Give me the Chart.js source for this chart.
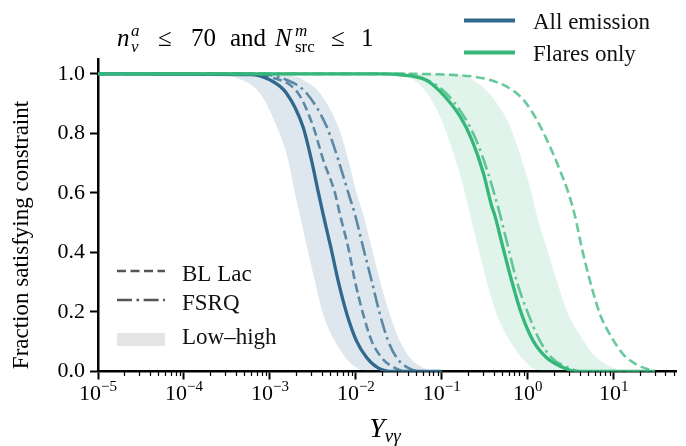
<!DOCTYPE html>
<html>
<head>
<meta charset="utf-8">
<script src="https://cdn.jsdelivr.net/npm/chart.js@4.4.1/dist/chart.umd.min.js"></script>
<style>
html,body{margin:0;padding:0;background:#fff;}
#wrap{width:686px;height:446px;position:relative;}
</style>
</head>
<body>
<div id="wrap"><canvas id="c" width="686" height="446"></canvas></div>
<script>
// ---------------- data ----------------
const xTickExponents = [-5, -4, -3, -2, -1, 0, 1];
const yTickValues = [0.0, 0.2, 0.4, 0.6, 0.8, 1.0];
const yTickLabels = ['0.0', '0.2', '0.4', '0.6', '0.8', '1.0'];

// All emission (blue)
const allMedianX = [1e-5, 5.85e-4, 1.0e-3, 1.56e-3, 2.42e-3, 3.04e-3, 3.67e-3, 4.17e-3, 5.13e-3, 6.24e-3, 7.9e-3, 1.02e-2, 1.34e-2, 1.81e-2, 2.70e-2, 0.1];
const allMedianY = [1, 0.998, 0.98, 0.935, 0.823, 0.711, 0.60, 0.527, 0.415, 0.303, 0.191, 0.102, 0.046, 0.012, 0, 0];
const allBLLacX = [1e-5, 5.85e-4, 1.0e-3, 2.13e-3, 3.19e-3, 4.17e-3, 5.71e-3, 6.53e-3, 8.17e-3, 9.77e-3, 1.22e-2, 1.53e-2, 2.00e-2, 2.61e-2, 3.90e-2, 0.1];
const allBLLacY = [1, 1.0, 0.99, 0.935, 0.823, 0.711, 0.60, 0.527, 0.415, 0.303, 0.191, 0.102, 0.046, 0.018, 0, 0];
const allFSRQX = [1e-5, 6.68e-4, 1.56e-3, 2.67e-3, 4.57e-3, 6.24e-3, 8.17e-3, 9.77e-3, 1.22e-2, 1.53e-2, 1.91e-2, 2.38e-2, 2.99e-2, 4.07e-2, 5.57e-2, 0.1];
const allFSRQY = [1, 1.0, 0.98, 0.935, 0.823, 0.711, 0.60, 0.527, 0.415, 0.303, 0.191, 0.102, 0.046, 0.012, 0, 0];
const allLowX = [1e-5, 2.5e-4, 3.71e-4, 7.65e-4, 1.20e-3, 1.63e-3, 1.95e-3, 2.23e-3, 2.72e-3, 3.34e-3, 4.17e-3, 5.71e-3, 8.17e-3, 1.12e-2, 1.46e-2, 0.1];
const allLowY = [1, 1.0, 0.99, 0.935, 0.823, 0.711, 0.60, 0.527, 0.415, 0.303, 0.191, 0.102, 0.035, 0.007, 0, 0];
const allHighX = [1e-5, 1.0e-3, 2.05e-3, 2.44e-3, 3.82e-3, 6.24e-3, 8.17e-3, 1.02e-2, 1.22e-2, 1.53e-2, 1.91e-2, 2.49e-2, 3.26e-2, 4.27e-2, 6.09e-2, 7.90e-2, 0.1];
const allHighY = [1, 1.0, 0.99, 0.98, 0.935, 0.823, 0.711, 0.60, 0.527, 0.415, 0.303, 0.191, 0.102, 0.046, 0.012, 0, 0];

// Flares only (green)
const flareMedianX = [1e-5, 1.91e-2, 3.26e-2, 6.67e-2, 9.53e-2, 0.163, 0.223, 0.304, 0.381, 0.411, 0.516, 0.652, 0.851, 1.16, 1.66, 2.38, 3.72, 30];
const flareMedianY = [1, 1.0, 0.997, 0.978, 0.941, 0.857, 0.779, 0.667, 0.555, 0.527, 0.415, 0.303, 0.191, 0.102, 0.046, 0.018, 0, 0];
const flareBLLacX = [1e-5, 3.26e-2, 0.125, 0.304, 0.570, 0.889, 1.27, 1.74, 2.27, 2.97, 3.55, 4.25, 5.31, 6.95, 9.51, 12.97, 18.6, 30];
const flareBLLacY = [1, 1.0, 0.997, 0.985, 0.957, 0.913, 0.846, 0.767, 0.689, 0.60, 0.521, 0.415, 0.303, 0.191, 0.113, 0.057, 0.023, 0];
const flareFSRQX = [1e-5, 3.26e-2, 6.91e-2, 0.112, 0.181, 0.250, 0.345, 0.405, 0.476, 0.594, 0.745, 1.02, 1.39, 1.90, 2.72, 4.25, 30];
const flareFSRQY = [1, 1.0, 0.978, 0.935, 0.857, 0.779, 0.667, 0.60, 0.527, 0.415, 0.303, 0.191, 0.102, 0.046, 0.018, 0, 0];
const flareLowX = [1e-5, 2.49e-2, 5.57e-2, 9.53e-2, 0.136, 0.178, 0.213, 0.266, 0.333, 0.436, 0.622, 0.851, 1.16, 1.59, 30];
const flareLowY = [1, 1.0, 0.963, 0.857, 0.734, 0.622, 0.527, 0.415, 0.303, 0.191, 0.102, 0.046, 0.01, 0, 0];
const flareHighX = [1e-5, 9.53e-2, 0.163, 0.279, 0.436, 0.622, 0.851, 1.11, 1.27, 1.66, 2.18, 2.97, 4.25, 5.80, 8.31, 14.2, 30];
const flareHighY = [1, 1.0, 0.997, 0.963, 0.902, 0.823, 0.711, 0.60, 0.527, 0.415, 0.303, 0.191, 0.113, 0.057, 0.023, 0, 0];

// ---------------- styling ----------------
const FONT = '"Liberation Serif", "Times New Roman", serif';
const BLUE = '#31688e';
const GREEN = '#35b779';
const X_MIN = 1e-5, X_MAX = 53;

function pts(xs, ys) { return xs.map((x, i) => ({x: x, y: ys[i]})); }

const lineBase = {pointRadius: 0, cubicInterpolationMode: 'monotone', borderCapStyle: 'butt', fill: false};

const datasets = [
  Object.assign({}, lineBase, {data: pts(allLowX, allLowY), borderWidth: 0, borderColor: 'rgba(0,0,0,0)', backgroundColor: 'rgba(49,104,142,0.16)', fill: 1, order: 10}),
  Object.assign({}, lineBase, {data: pts(allHighX, allHighY), borderWidth: 0, borderColor: 'rgba(0,0,0,0)', order: 10}),
  Object.assign({}, lineBase, {data: pts(flareLowX, flareLowY), borderWidth: 0, borderColor: 'rgba(0,0,0,0)', backgroundColor: 'rgba(53,183,121,0.15)', fill: 3, order: 9}),
  Object.assign({}, lineBase, {data: pts(flareHighX, flareHighY), borderWidth: 0, borderColor: 'rgba(0,0,0,0)', order: 9}),
  Object.assign({}, lineBase, {data: pts(allBLLacX, allBLLacY), borderColor: 'rgba(49,104,142,0.75)', borderWidth: 2.6, borderDash: [9, 4.5], order: 6}),
  Object.assign({}, lineBase, {data: pts(allFSRQX, allFSRQY), borderColor: 'rgba(49,104,142,0.75)', borderWidth: 2.6, borderDash: [15, 4.5, 2.6, 4.5], order: 6}),
  Object.assign({}, lineBase, {data: pts(allMedianX, allMedianY), borderColor: BLUE, borderWidth: 3.3, order: 5}),
  Object.assign({}, lineBase, {data: pts(flareBLLacX, flareBLLacY), borderColor: 'rgba(53,183,121,0.75)', borderWidth: 2.6, borderDash: [9, 4.5], order: 3}),
  Object.assign({}, lineBase, {data: pts(flareFSRQX, flareFSRQY), borderColor: 'rgba(53,183,121,0.75)', borderWidth: 2.6, borderDash: [15, 4.5, 2.6, 4.5], order: 3}),
  Object.assign({}, lineBase, {data: pts(flareMedianX, flareMedianY), borderColor: GREEN, borderWidth: 3.3, order: 1})
];

function font(size, italic) { return (italic ? 'italic ' : '') + size + 'px ' + FONT; }

function drawRich(ctx, parts, x, baseline, measureOnly) {
  let cx = x;
  for (const p of parts) {
    if (p.t !== undefined) {
      ctx.font = font(p.size, p.it);
      if (!measureOnly) ctx.fillText(p.t, cx, baseline + (p.dy || 0));
      cx += ctx.measureText(p.t).width;
    } else {
      let w = 0;
      if (p.sup) {
        ctx.font = font(p.size, p.supIt);
        if (!measureOnly) ctx.fillText(p.sup, cx, baseline - p.up);
        w = Math.max(w, ctx.measureText(p.sup).width);
      }
      if (p.sub) {
        ctx.font = font(p.size, p.subIt);
        if (!measureOnly) ctx.fillText(p.sub, cx, baseline + p.down);
        w = Math.max(w, ctx.measureText(p.sub).width);
      }
      cx += w + (p.after || 0);
    }
  }
  return cx - x;
}

const decorPlugin = {
  id: 'decor',
  afterDraw(chart) {
    const ctx = chart.ctx;
    const xs = chart.scales.x;
    const area = chart.chartArea;
    ctx.save();
    ctx.fillStyle = '#000';
    ctx.strokeStyle = '#000';
    ctx.textAlign = 'left';
    ctx.textBaseline = 'alphabetic';

    // minor x ticks
    ctx.lineWidth = 1.2;
    for (const e of xTickExponents) {
      for (let k = 2; k <= 9; k++) {
        const v = k * Math.pow(10, e);
        if (v > X_MAX) continue;
        const px = Math.round(xs.getPixelForValue(v)) + 0.5;
        ctx.beginPath();
        ctx.moveTo(px, area.bottom);
        ctx.lineTo(px, area.bottom + 4.5);
        ctx.stroke();
      }
    }

    // x tick labels 10^n
    for (const e of xTickExponents) {
      const px = xs.getPixelForValue(Math.pow(10, e));
      const expo = (e < 0 ? '\u2212' : '') + Math.abs(e);
      const parts = [{t: '10', size: 22}, {sup: expo, size: 15, up: 9}];
      const w = drawRich(ctx, parts, 0, 0, true);
      drawRich(ctx, parts, px - w / 2, 400);
    }

    // x axis title
    const xt = [{t: 'Y', size: 28, it: true}, {sub: '\u03BD\u03B3', size: 19, subIt: true, down: 5}];
    const xw = drawRich(ctx, xt, 0, 0, true);
    drawRich(ctx, xt, (area.left + area.right) / 2 - xw / 2 - 2, 437);

    // y axis title
    ctx.save();
    ctx.translate(22, 235);
    ctx.rotate(-Math.PI / 2);
    ctx.font = font(23, false);
    ctx.textAlign = 'center';
    ctx.textBaseline = 'middle';
    ctx.fillText('Fraction satisfying constraint', 0, 0);
    ctx.restore();

    // title (math-like layout)
    ctx.textAlign = 'left';
    ctx.textBaseline = 'alphabetic';
    const tb = 46;
    ctx.font = font(25, true);  ctx.fillText('n', 117, tb);
    ctx.font = font(17, true);  ctx.fillText('a', 131, tb - 10);
    ctx.font = font(17, true);  ctx.fillText('\u03BD', 131, tb + 6);
    ctx.font = font(25, false); ctx.fillText('\u2264', 158, tb);
    ctx.font = font(25, false); ctx.fillText('70', 191, tb);
    ctx.font = font(25, false); ctx.fillText('and', 230, tb);
    ctx.font = font(25, true);  ctx.fillText('N', 275, tb);
    ctx.font = font(17, true);  ctx.fillText('m', 295, tb - 10);
    ctx.font = font(17, false); ctx.fillText('src', 295, tb + 6);
    ctx.font = font(25, false); ctx.fillText('\u2264', 331, tb);
    ctx.font = font(25, false); ctx.fillText('1', 361, tb);

    // legend: series (top right)
    const leg1 = [['All emission', BLUE, 20.5, 29.3], ['Flares only', GREEN, 52.5, 61]];
    for (const [txt, col, ly, tbl] of leg1) {
      ctx.strokeStyle = col;
      ctx.lineWidth = 3.8;
      ctx.setLineDash([]);
      ctx.beginPath();
      ctx.moveTo(464, ly);
      ctx.lineTo(515, ly);
      ctx.stroke();
      ctx.fillStyle = '#111';
      ctx.font = font(23, false);
      ctx.fillText(txt, 533, tbl);
    }

    // legend: line styles (bottom left)
    ctx.strokeStyle = '#555';
    ctx.lineWidth = 2.6;
    ctx.setLineDash([9, 4.5]);
    ctx.beginPath(); ctx.moveTo(117, 271); ctx.lineTo(165, 271); ctx.stroke();
    ctx.setLineDash([15, 4.5, 2.6, 4.5]);
    ctx.beginPath(); ctx.moveTo(117, 300); ctx.lineTo(165, 300); ctx.stroke();
    ctx.setLineDash([]);
    ctx.fillStyle = '#e5e5e5';
    ctx.fillRect(117, 333, 48, 13);
    ctx.fillStyle = '#111';
    ctx.font = font(23, false);
    ctx.fillText('BL Lac', 182, 281);
    ctx.fillText('FSRQ', 182, 310);
    ctx.fillText('Low\u2013high', 182, 344);
    ctx.restore();
  }
};

new Chart(document.getElementById('c'), {
  type: 'line',
  data: {datasets: datasets},
  plugins: [decorPlugin],
  options: {
    responsive: false,
    animation: false,
    devicePixelRatio: 1,
    layout: {padding: {top: 59, right: 10, left: 0, bottom: 0}},
    plugins: {legend: {display: false}, tooltip: {enabled: false}, title: {display: false}},
    elements: {point: {radius: 0}, line: {tension: 0.4}},
    scales: {
      x: {
        type: 'logarithmic', min: X_MIN, max: X_MAX,
        afterBuildTicks: s => { s.ticks = xTickExponents.map(e => ({value: Math.pow(10, e), major: true})); },
        afterFit: s => { s.height = 74.5; },
        ticks: {display: false},
        grid: {display: true, drawOnChartArea: false, drawTicks: true, tickLength: 8, tickWidth: 2, tickColor: '#000'},
        border: {display: true, color: '#000', width: 2.5}
      },
      y: {
        type: 'linear', min: 0, max: 1.05,
        afterBuildTicks: s => { s.ticks = yTickValues.map(v => ({value: v})); },
        afterFit: s => { s.width = 98; },
        ticks: {color: '#000', font: {family: FONT, size: 22}, padding: 5, callback: (v, i) => yTickLabels[i]},
        grid: {display: true, drawOnChartArea: false, drawTicks: true, tickLength: 8, tickWidth: 2, tickColor: '#000'},
        border: {display: true, color: '#000', width: 2.5}
      }
    }
  }
});
</script>
</body>
</html>
